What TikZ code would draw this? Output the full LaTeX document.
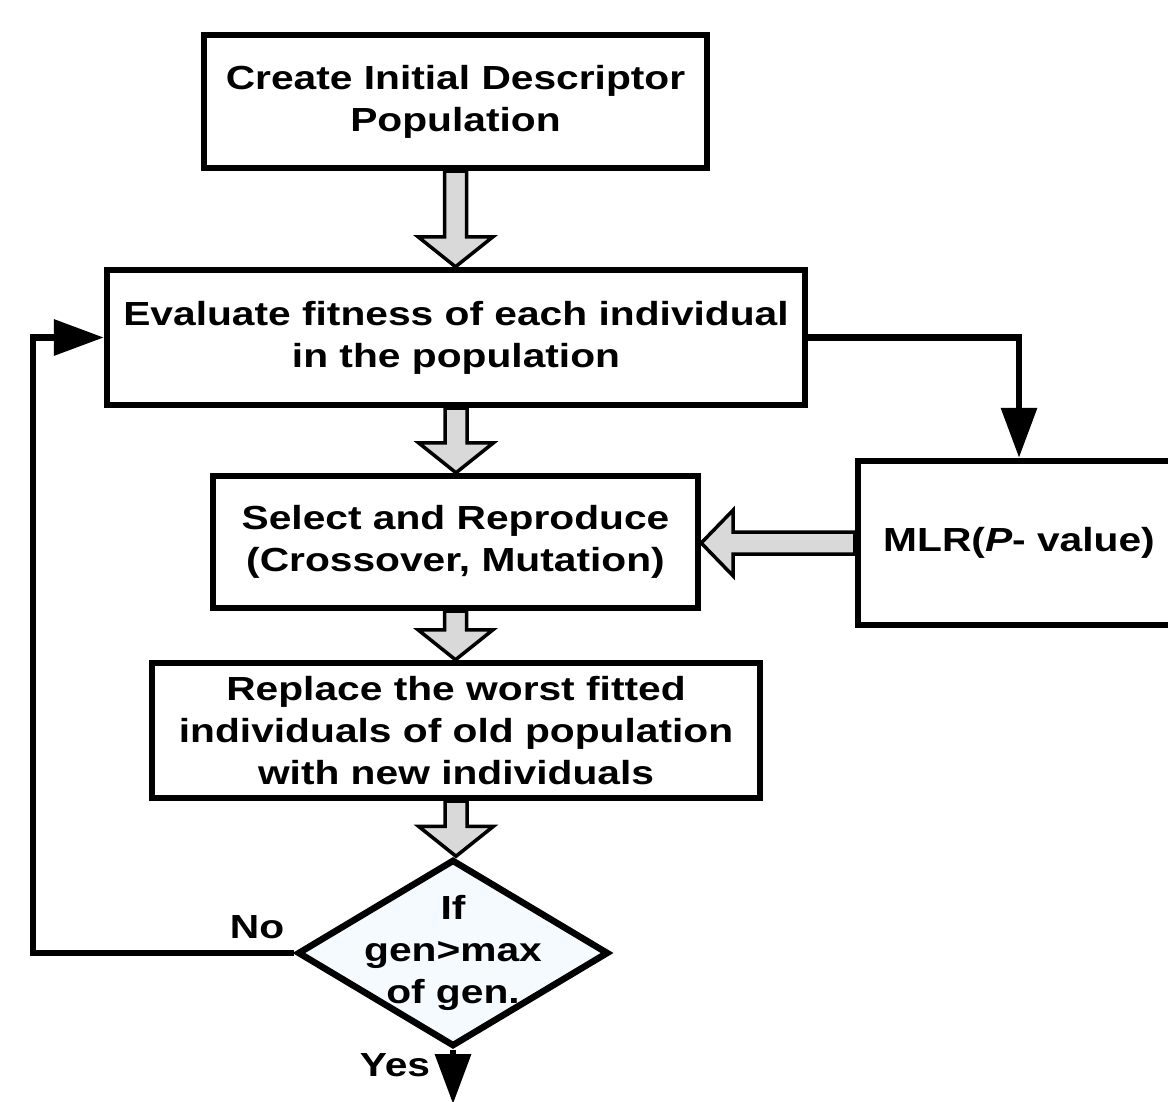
\documentclass[tikz,border=0pt]{standalone}
\usepackage{fontspec}
\setmainfont[FakeStretch=1.22]{Liberation Sans}
\usetikzlibrary{shapes.geometric,calc,arrows.meta}

\definecolor{decfill}{RGB}{245,250,255}
\definecolor{fatgray}{RGB}{217,217,217}

\begin{document}
\begin{tikzpicture}[
  x = 0.02cm, y = -0.02cm,
  every node/.style = {font=\bfseries\fontsize{19}{24}\selectfont},
  box/.style = {draw, line width=0.13cm, align=center, inner sep=0pt, fill=white},
  line/.style = {line width=0.13cm},
  tip/.style = {-{Triangle[length=1cm, width=0.7cm]}},
  fatdown/.style = {draw, line width=0.07cm, fill=fatgray,
    to path = {let \p1 = (\tikztostart), \p2 = (\tikztotarget) in
      (\x1-0.22cm,\y1) -- (\x1-0.22cm,\y2+0.6cm) -- (\x1-0.75cm,\y2+0.6cm)
      -- (\x1,\y2) -- (\x1+0.75cm,\y2+0.6cm) -- (\x1+0.22cm,\y2+0.6cm)
      -- (\x1+0.22cm,\y1) -- cycle}},
  fatleft/.style = {draw, line width=0.07cm, fill=fatgray,
    to path = {let \p1 = (\tikztostart), \p2 = (\tikztotarget) in
      (\x1,\y1-0.22cm) -- (\x2+0.64cm,\y1-0.22cm) -- (\x2+0.64cm,\y1-0.66cm)
      -- (\x2,\y1) -- (\x2+0.64cm,\y1+0.66cm) -- (\x2+0.64cm,\y1+0.22cm)
      -- (\x1,\y1+0.22cm) -- cycle}},
  ]
  \useasboundingbox (0,0) rectangle (1168,1101);
  \clip (0,0) rectangle (1168,1101);

  % boxes
  \node[box, minimum width=10.06cm, minimum height=2.66cm] (init) at (455.5,101.5)
    {Create Initial Descriptor\\Population};
  \node[box, minimum width=13.96cm, minimum height=2.7cm] (eval) at (456,337.5)
    {Evaluate fitness of each individual\\in the population};
  \node[box, minimum width=9.7cm, minimum height=2.64cm] (sel) at (455.5,542)
    {Select and Reproduce\\(Crossover, Mutation)};
  \node[box, minimum width=12.16cm, minimum height=2.7cm] (repl) at (456,730.5)
    {Replace the worst fitted\\individuals of old population\\with new individuals};
  \node[box, minimum width=6.44cm, minimum height=3.28cm] (mlr) at (1019,543)
    {MLR(\textit{P}- value)};
  \node[box, diamond, fill=decfill, minimum width=6.22cm, minimum height=3.74cm,
    label={[align=center]center:If\\gen>max\\of gen.}] (dec) at (453,953) {};

  \node (nolbl) at (257,927) {No};
  \node (yeslbl) at (395,1065) {Yes};
  \coordinate (back) at (33,953);
  \coordinate (out) at (453,1104);

  % hollow arrows
  \draw[fatdown] (init.south) to (eval.north);
  \draw[fatdown] (eval.south) to (sel.north);
  \draw[fatdown] (sel.south) to (repl.north);
  \draw[fatdown] (repl.south) to (dec.north);
  \draw[fatleft] (mlr.west) to (sel.east);

  % plain connectors
  \draw[line, tip] (eval.east) -| (mlr.north);
  \draw[line, tip] (dec.west) -- (back) |- (eval.west);
  \draw[line, tip] (dec.south) -- (out);
\end{tikzpicture}
\end{document}
